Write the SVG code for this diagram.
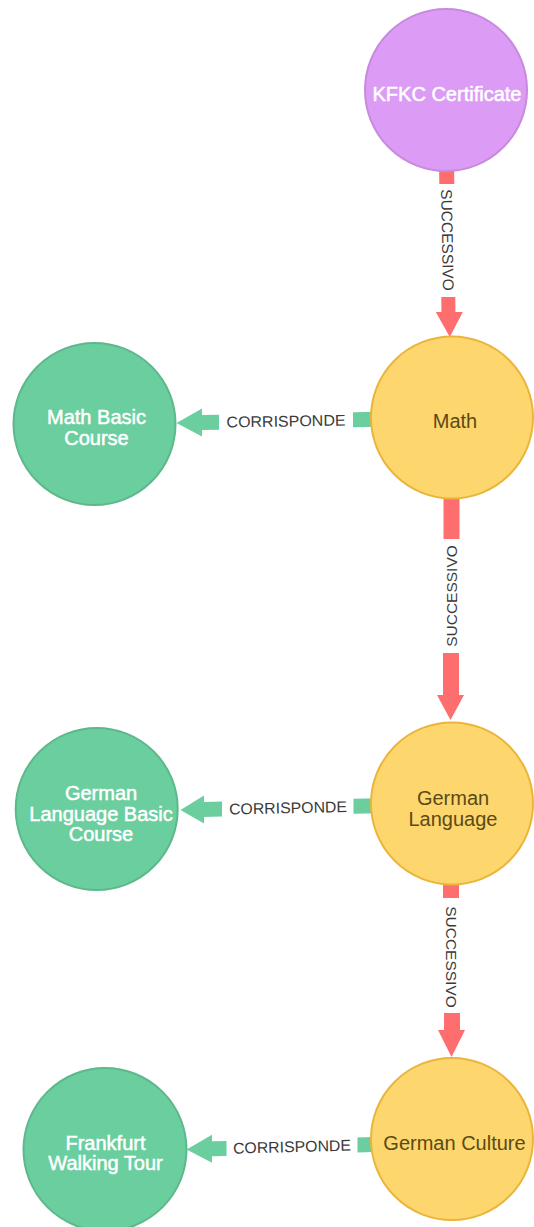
<svg xmlns="http://www.w3.org/2000/svg" width="534" height="1227" viewBox="0 0 534 1227">
  <style>
    .succ { fill: #FF6E6E; }
    .corr { fill: #6BCE9F; }
    .rel-label { font-family: "Liberation Sans", Arial, sans-serif; font-size: 15.5px; fill: #3A3A3A; text-anchor: middle; }
    .node-label { font-family: "Liberation Sans", Arial, sans-serif; font-size: 20px; text-anchor: middle; }
    .cert circle { fill: #DC9CF6; stroke: #C78ADF; stroke-width: 2; }
    .subject circle { fill: #FDD76E; stroke: #EAB53A; stroke-width: 2; }
    .course circle { fill: #6BCE9F; stroke: #5DB88B; stroke-width: 2; }
    .cert text, .course text { fill: #FFFFFF; stroke: #FFFFFF; stroke-width: 0.5; }
    .subject text { fill: #5A4A14; }
  </style>

  <!-- relationships (drawn under the nodes) -->
  <g id="connectors">
    <!-- KFKC Certificate -> Math : SUCCESSIVO -->
    <g id="rel-kfkc-math">
      <polygon class="succ" points="439,160 454,160 454.3,184 439.3,184"/>
      <polygon class="succ" points="441.3,297 455.3,297 455.4,312 441.4,312"/>
      <polygon class="succ" points="435.8,312 462.8,312 449.8,337"/>
      <text class="rel-label" transform="translate(447.5,240) rotate(89)" x="0" y="5.5">SUCCESSIVO</text>
    </g>
    <!-- Math -> German Language : SUCCESSIVO -->
    <g id="rel-math-german">
      <rect class="succ" x="443.5" y="490" width="16" height="49"/>
      <rect class="succ" x="443" y="653" width="16" height="42"/>
      <polygon class="succ" points="437,695 464,695 450.5,720"/>
      <text class="rel-label" transform="translate(451,596) rotate(-90)" x="0" y="5.5">SUCCESSIVO</text>
    </g>
    <!-- German Language -> German Culture : SUCCESSIVO -->
    <g id="rel-german-culture">
      <rect class="succ" x="443" y="875" width="16" height="23"/>
      <rect class="succ" x="444" y="1013" width="16" height="17"/>
      <polygon class="succ" points="438,1030 465,1030 451.5,1057"/>
      <text class="rel-label" transform="translate(451,957) rotate(90)" x="0" y="5.5">SUCCESSIVO</text>
    </g>
    <!-- Math -> Math Basic Course : CORRISPONDE -->
    <g id="rel-math-basic">
      <polygon class="corr" points="380,411.8 353,412.3 353,427.3 380,426.8"/>
      <polygon class="corr" points="219,414.7 202,415 202,430 219,429.7"/>
      <polygon class="corr" points="202,408.5 202,436.5 176.5,423"/>
      <text class="rel-label" transform="translate(286,421) rotate(-1)" x="0" y="5.5" textLength="119" lengthAdjust="spacingAndGlyphs">CORRISPONDE</text>
    </g>
    <!-- German Language -> German Language Basic Course : CORRISPONDE -->
    <g id="rel-german-basic">
      <polygon class="corr" points="380,798.3 353.5,798.8 353.5,813.8 380,813.3"/>
      <polygon class="corr" points="222,801.6 204,802 204,817 222,816.6"/>
      <polygon class="corr" points="204,795.5 204,823.5 180.5,810"/>
      <text class="rel-label" transform="translate(288,807.7) rotate(-1.2)" x="0" y="5.5" textLength="118" lengthAdjust="spacingAndGlyphs">CORRISPONDE</text>
    </g>
    <!-- German Culture -> Frankfurt Walking Tour : CORRISPONDE -->
    <g id="rel-culture-tour">
      <polygon class="corr" points="381,1136.8 357.5,1137.4 357.5,1152.4 381,1151.8"/>
      <polygon class="corr" points="226.5,1140.9 212,1141.3 212,1156.3 226.5,1155.9"/>
      <polygon class="corr" points="212,1134.8 212,1162.8 186.6,1149.5"/>
      <text class="rel-label" transform="translate(292,1146.6) rotate(-1.5)" x="0" y="5.5" textLength="118" lengthAdjust="spacingAndGlyphs">CORRISPONDE</text>
    </g>
  </g>

  <!-- nodes -->
  <g id="node-kfkc-certificate" class="cert">
    <circle cx="446" cy="90" r="81"/>
    <text class="node-label" x="447" y="101">KFKC Certificate</text>
  </g>
  <g id="node-math" class="subject">
    <circle cx="452" cy="417.5" r="81"/>
    <text class="node-label" x="455" y="427.5">Math</text>
  </g>
  <g id="node-math-basic-course" class="course">
    <circle cx="94.5" cy="424" r="81"/>
    <text class="node-label" x="96.5" y="424">Math Basic</text>
    <text class="node-label" x="96.5" y="445">Course</text>
  </g>
  <g id="node-german-language" class="subject">
    <circle cx="452" cy="803.5" r="81"/>
    <text class="node-label" x="453" y="805">German</text>
    <text class="node-label" x="453" y="825.5">Language</text>
  </g>
  <g id="node-german-language-basic-course" class="course">
    <circle cx="96.7" cy="809" r="81"/>
    <text class="node-label" x="101" y="800">German</text>
    <text class="node-label" x="101" y="820.5">Language Basic</text>
    <text class="node-label" x="101" y="841">Course</text>
  </g>
  <g id="node-german-culture" class="subject">
    <circle cx="452" cy="1139" r="81"/>
    <text class="node-label" x="454.5" y="1150">German Culture</text>
  </g>
  <g id="node-frankfurt-walking-tour" class="course">
    <circle cx="105" cy="1149.5" r="81.5"/>
    <text class="node-label" x="105.5" y="1150">Frankfurt</text>
    <text class="node-label" x="105.5" y="1170">Walking Tour</text>
  </g>
</svg>
